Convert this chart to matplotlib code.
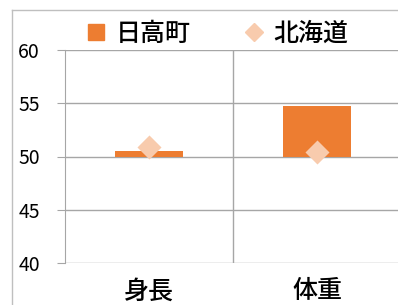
import numpy as np
import matplotlib.pyplot as plt
from matplotlib.lines import Line2D

plt.rcParams['font.family'] = ['Noto Sans CJK JP', 'DejaVu Sans']

categories = ['身長', '体重']
hidaka = [50.55, 54.75]
hokkaido = [50.9, 50.4]
base = 50
yticks = [40, 45, 50, 55, 60]

bar_color = '#ED7D31'
dia_color = '#F8CBAD'
grid_color = '#A6A6A6'

fig = plt.figure(figsize=(3.98, 3.05), dpi=100)
ax = fig.add_axes([65/398, 1-263/305, 336/398, 213/305])

x = np.arange(len(categories))
ax.bar(x, np.array(hidaka) - base, bottom=base, width=0.4, color=bar_color, zorder=3)
ax.scatter(x, hokkaido, marker='D', s=150, color=dia_color, zorder=4, linewidths=0)

ax.set_xlim(-0.5, 1.5)
ax.set_ylim(40, 60)
ax.set_yticks(yticks)
ax.set_yticklabels([str(v) for v in yticks], fontsize=14)
ax.set_xticks(x)
ax.set_xticklabels(categories, fontsize=18, fontweight='medium')
ax.tick_params(axis='x', length=0, pad=11)
ax.tick_params(axis='y', length=6, color=grid_color, pad=12)

for y in yticks:
    ax.axhline(y, color=grid_color, lw=1, zorder=1)
ax.axvline(0.5, color=grid_color, lw=1, zorder=1)
for s in ['top', 'right', 'bottom']:
    ax.spines[s].set_visible(False)
ax.spines['left'].set_color(grid_color)

handles = [Line2D([], [], marker='s', ls='', color=bar_color, markersize=11),
           Line2D([], [], marker='D', ls='', color=dia_color, markersize=9)]
fig.legend(handles, ['日高町', '北海道'], ncol=2, frameon=False,
           prop={'size': 18, 'weight': 'medium'},
           loc='center', bbox_to_anchor=(216/398, 1-34/305),
           handletextpad=0.3, columnspacing=2.0, handlelength=1.0)

# outer chart border
fig.add_artist(Line2D([12/398, 12/398], [0, 1-10/305], color='#BFBFBF', lw=1))
fig.add_artist(Line2D([12/398, 1], [1-10/305, 1-10/305], color='#BFBFBF', lw=1))

fig.savefig('out.png', dpi=100)
